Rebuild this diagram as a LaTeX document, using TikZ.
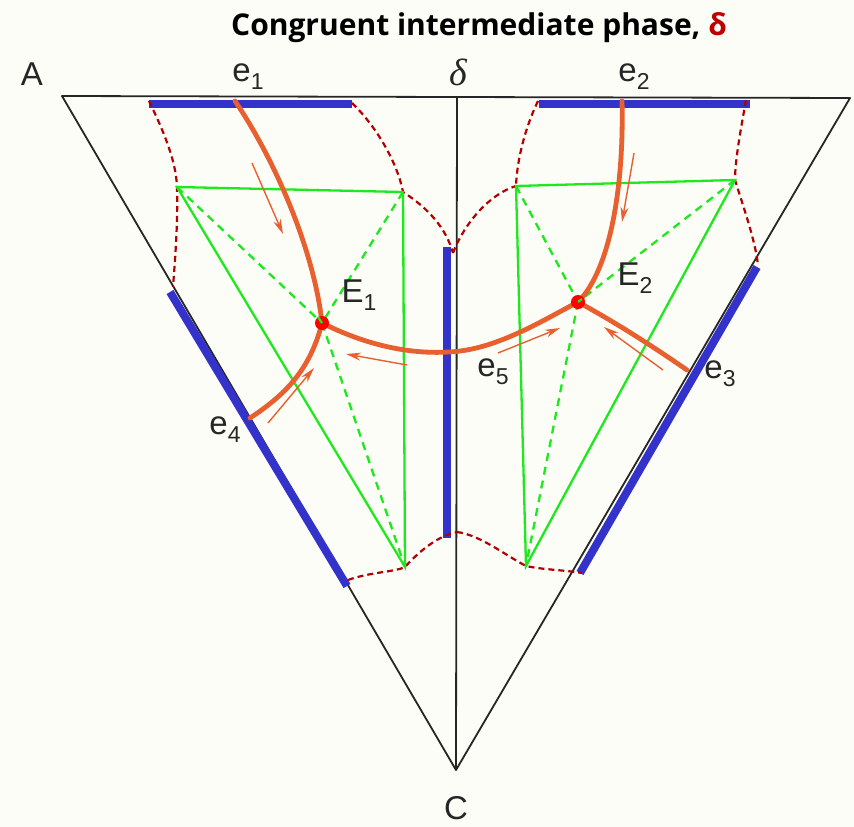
\documentclass[tikz,border=0pt]{standalone}
\usepackage{fontspec}
\setmainfont{Liberation Sans}
\newfontfamily\titlefont{Open Sans}
\newfontfamily\greekfont{Liberation Serif}
\usetikzlibrary{arrows.meta}
\definecolor{bgcream}{RGB}{253,253,247}
\definecolor{barblue}{RGB}{51,51,204}
\definecolor{liqorange}{RGB}{232,96,48}
\definecolor{tiegreen}{RGB}{30,232,30}
\definecolor{dashred}{RGB}{176,0,0}
\definecolor{titlered}{RGB}{192,0,0}
\newcommand{\lblsub}[1]{\raisebox{-0.45ex}{\fontsize{23}{23}\selectfont #1}}
\tikzset{
  frame/.style={draw=black!85, line width=1.8pt, line join=round},
  bar/.style={draw=barblue, line width=8pt},
  valley/.style={draw=liqorange, line width=4.8pt, line cap=round},
  flowarrow/.style={draw=liqorange, line width=1.4pt, -{Stealth[length=15pt,width=8pt]}},
  tie/.style={draw=tiegreen, line width=2.3pt},
  tiedash/.style={draw=tiegreen, line width=2.3pt, dash pattern=on 8pt off 6pt},
  bound/.style={draw=dashred, line width=2.2pt, dash pattern=on 6pt off 4pt},
  eut/.style={circle, fill=red, inner sep=0pt, minimum size=14pt},
  lbl/.style={font=\fontsize{33}{33}\selectfont, inner sep=0pt, text=black!85}
}
\begin{document}
\begin{tikzpicture}[x=1pt,y=-1pt]
\fill[bgcream] (0,0) rectangle (854,827);
\useasboundingbox (0,0) rectangle (854,827);
% title
\node[inner sep=0pt] (title) at (479,28) {\titlefont\bfseries\fontsize{30}{30}\selectfont Congruent intermediate phase, \textcolor{titlered}{δ}};
% frame
\coordinate (A) at (62,96);
\coordinate (B) at (850,98);
\coordinate (C) at (456,770);
\coordinate (D) at (457,96);
\draw[frame] (A) -- (B) -- (C) -- cycle;
\draw[frame] (D) -- (C);
% blue bars
\coordinate (b1a) at (149,104); \coordinate (b1b) at (352,104);
\coordinate (b2a) at (539,104); \coordinate (b2b) at (750,104);
\coordinate (bLa) at (170,292); \coordinate (bLb) at (347,586);
\coordinate (bMa) at (447,247); \coordinate (bMb) at (447,538);
\coordinate (bRa) at (757,267); \coordinate (bRb) at (580,573);
\draw[bar] (b1a) -- (b1b);
\draw[bar] (b2a) -- (b2b);
\draw[bar] (bLa) -- (bLb);
\draw[bar] (bMa) -- (bMb);
\draw[bar] (bRa) -- (bRb);
% key points
\coordinate (g1) at (177,187);
\coordinate (g2) at (403,192);
\coordinate (g3) at (405,567);
\coordinate (g4) at (516,186);
\coordinate (g5) at (735,180);
\coordinate (g6) at (526,566);
\coordinate (m1) at (453,253);
\coordinate (m2) at (457,532);
\coordinate (lL) at (173,287);
\coordinate (rR) at (758,265);
\coordinate (bl) at (348,580);
\coordinate (br) at (582,573);
\coordinate (t1a) at (149,101);
\coordinate (t1b) at (352,103);
\coordinate (t2a) at (538,101);
\coordinate (t2b) at (746,100);
% red dashed boundaries
\draw[bound] (t1a) .. controls (163,130) and (176,160) .. (g1) .. controls (178,225) and (175,260) .. (lL);
\draw[bound] (t1b) .. controls (378,128) and (398,165) .. (g2) .. controls (428,208) and (446,228) .. (m1);
\draw[bound] (m1) .. controls (465,222) and (490,194) .. (g4);
\draw[bound] (t2a) .. controls (525,128) and (517,160) .. (g4);
\draw[bound] (t2b) .. controls (741,128) and (735,160) .. (g5) .. controls (745,212) and (755,240) .. (rR);
\draw[bound] (bl) .. controls (370,572) and (395,572) .. (g3) .. controls (420,550) and (440,535) .. (m2);
\draw[bound] (m2) .. controls (480,535) and (505,555) .. (g6) .. controls (545,570) and (565,570) .. (br);
% eutectic points
\coordinate (E1) at (322,323);
\coordinate (E2) at (578,302);
% green tie triangles
\draw[tie] (g1) -- (g2) -- (g3) -- cycle;
\draw[tie] (g4) -- (g5) -- (g6) -- cycle;
\draw[tiedash] (g1) -- (E1);
\draw[tiedash] (g2) -- (E1);
\draw[tiedash] (E1) -- (g3);
\draw[tiedash] (g4) -- (E2);
\draw[tiedash] (g5) -- (E2);
\draw[tiedash] (E2) -- (g6);
% liquidus valleys
\coordinate (v1) at (235,101);
\coordinate (v2) at (622,101);
\coordinate (v3) at (687,370);
\coordinate (v4) at (250,418);
\coordinate (v5) at (449,352);
\draw[valley] (v1) .. controls (275,160) and (314,250) .. (E1);
\draw[valley] (v2) .. controls (624,180) and (612,268) .. (E2);
\draw[valley] (E1) .. controls (372,348) and (415,354) .. (v5) .. controls (495,350) and (540,322) .. (E2);
\draw[valley] (E2) .. controls (620,325) and (655,348) .. (v3);
\draw[valley] (E1) .. controls (310,370) and (285,395) .. (v4);
% flow arrows
\coordinate (f1a) at (252,163); \coordinate (f1b) at (283,234);
\coordinate (f2a) at (634,153); \coordinate (f2b) at (622,222);
\coordinate (f3a) at (407,365); \coordinate (f3b) at (346,354);
\coordinate (f4a) at (498,353); \coordinate (f4b) at (560,328);
\coordinate (f5a) at (663,370); \coordinate (f5b) at (604,327);
\coordinate (f6a) at (268,423); \coordinate (f6b) at (314,368);
\draw[flowarrow] (f1a) -- (f1b);
\draw[flowarrow] (f2a) -- (f2b);
\draw[flowarrow] (f3a) -- (f3b);
\draw[flowarrow] (f4a) -- (f4b);
\draw[flowarrow] (f5a) -- (f5b);
\draw[flowarrow] (f6a) -- (f6b);
% eutectic dots
\node[eut] (dE1) at (E1) {};
\node[eut] (dE2) at (E2) {};
\draw[tiedash] (dE1.center) -- ++(-4,-6);
\draw[tiedash] (dE2.center) -- ++(4,-3);
% labels
\node[lbl] (lA) at (32,74) {A};
\node[lbl] (le1) at (248,77) {e\lblsub{1}};
\node[lbl] (ld) at (458,72) {\greekfont\fontsize{38}{38}\selectfont\itshape δ};
\node[lbl] (le2) at (634,77) {e\lblsub{2}};
\node[lbl] (lE1) at (359,295) {E\lblsub{1}};
\node[lbl] (lE2) at (635,278) {E\lblsub{2}};
\node[lbl] (le5) at (493,372) {e\lblsub{5}};
\node[lbl] (le3) at (720,374) {e\lblsub{3}};
\node[lbl] (le4) at (225,430) {e\lblsub{4}};
\node[lbl] (lC) at (456,808) {C};
\end{tikzpicture}
\end{document}
